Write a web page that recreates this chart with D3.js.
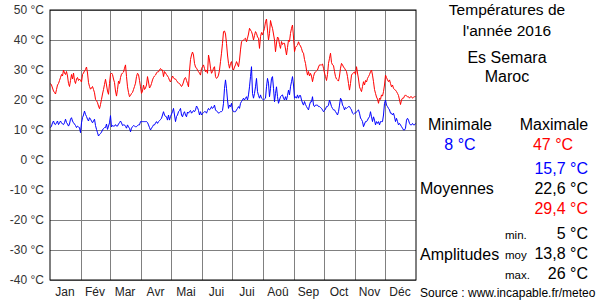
<!DOCTYPE html>
<html>
<head>
<meta charset="utf-8">
<script src="https://cdn.jsdelivr.net/npm/d3@7"></script>
<style>
  body { margin: 0; background: #fff; }
  svg { font-family: "Liberation Sans", Arial, sans-serif; }
  .grid line { stroke: #808080; stroke-width: 1; }
  .grid path { display: none; }
  .ylab text { fill: #333; font-size: 12px; }
  .xlab text { fill: #222; font-size: 12px; }
  .xlab line, .xlab path { display: none; }
  .ylab line, .ylab path { display: none; }
</style>
</head>
<body>
<div id="chart_area"></div>
<script>
// Month names and lengths (2016 is a leap year).
var month_names = ["Jan", "Fév", "Mar", "Avr", "Mai", "Jui", "Jui", "Aoû", "Sep", "Oct", "Nov", "Déc"];
var month_days = [31, 29, 31, 30, 31, 30, 31, 31, 30, 31, 30, 31];
var y_ticks = [50, 40, 30, 20, 10, 0, -10, -20, -30, -40];

// Daily maxima.
var max_temps = [
  25.5, 25, 24, 23, 22.5, 22, 23.5, 25, 25.5, 26.5, 27.5, 28.5, 28, 30, 29, 28.5, 29.5, 28, 25.5, 24.5, 26.5, 28.5, 27, 29, 26.5, 25.5, 27, 27.5, 26.5, 27, 26.5,
  26, 28.5, 29, 29.7, 30.2, 31, 29, 25.8, 24.5, 23.6, 24, 24.5, 23.5, 22.4, 20.2, 19.8, 19.1, 18, 17.1, 18.5, 20.2, 22, 23.5, 25.2, 26.9, 25, 23, 21.9, 25.5,
  28.6, 29, 28.5, 27, 25.8, 23, 21.3, 23.5, 26.3, 25.5, 27.5, 28.6, 29, 29.3, 30.6, 31.7, 27.8, 24.4, 22.5, 21.1, 21.5, 22.2, 22.5, 23.5, 24.5, 25.6, 27.8, 28.9, 28.5, 26.5, 24.4,
  22.2, 23, 25, 23.5, 24, 25, 27.8, 26, 24, 24.5, 25.5, 26.7, 27.5, 28, 28.3, 29, 29.4, 29.4, 30, 30.5, 30, 30, 27.8, 29.5, 29, 28.5, 28, 27.5, 26.5, 26,
  27, 28, 27.5, 27, 27, 26.5, 26, 25.6, 25.5, 25, 24.5, 25, 26, 27.2, 27.5, 26.5, 25.5, 24.4, 29.7, 33.5, 35, 36, 35, 32.2, 31, 30.6, 30, 29.4, 29, 28.3, 30.5,
  31.1, 31.7, 30.5, 29.4, 30, 28.9, 35, 33.3, 30.6, 28.9, 29.5, 30.6, 31.1, 27.8, 27.2, 27.5, 28.3, 30, 32.8, 35.6, 38.9, 42.8, 43, 42, 38.9, 35, 32.2, 30.6, 32.2, 32.8,
  30.6, 30, 31, 31.7, 32.8, 32, 31.1, 33.3, 36.7, 39.4, 39.8, 40, 40.3, 40.6, 39.4, 40.6, 42, 43.9, 43.3, 42.8, 41.7, 40, 41.5, 42.8, 42.2, 41, 40.6, 37.2, 41.1, 42.5, 41.7,
  42.8, 43.9, 46.1, 47, 43.3, 40, 42.2, 46.5, 45, 43.9, 42, 40, 36.1, 39, 41, 40.6, 38.5, 37.2, 39.5, 38.5, 38.9, 38.9, 37, 35, 37.5, 40, 39.5, 42.2, 43.9, 45, 41,
  36.1, 37.5, 38, 38.3, 39.4, 38.5, 38, 37.2, 36, 35.6, 33.5, 32.2, 30, 28.3, 29.5, 28, 28.9, 28, 26.1, 27.8, 29, 29.4, 29.7, 30, 31, 31.7, 31.7, 31.7, 32, 30.6,
  29, 27.8, 26.5, 28.5, 32.2, 33.9, 35.6, 32.5, 31.7, 31.5, 29.5, 27.8, 27, 26.7, 26.3, 28, 30.6, 32.2, 31.7, 31, 30.6, 30, 29.5, 27.8, 25.5, 23.3, 25.5, 28.3, 28.8, 29, 29.4,
  28.5, 31.1, 29, 27, 24.4, 23.5, 22.8, 24.5, 26.1, 25, 26.5, 26, 27.2, 27.8, 28.5, 29.4, 30, 28.3, 26.1, 23.5, 22.2, 21, 20.3, 18.9, 20.6, 20.2, 21.7, 21.3, 22.8, 25,
  28.3, 27.5, 26.7, 26.1, 26.7, 25.5, 24.4, 25, 23.9, 23.5, 23.3, 22.8, 22.2, 21.5, 20, 18.5, 20, 20.6, 20.6, 21.3, 21.7, 21.3, 21.1, 21.1, 20.6, 21.1, 21.1, 20.6, 20.9, 21.1, 21.1
];

// Daily minima.
var min_temps = [
  10.8, 11.3, 12.4, 13, 12, 11.8, 12.4, 13, 11.8, 12.4, 13, 12.4, 12, 11.8, 12.4, 13.6, 12.5, 12, 11.3, 12, 13.6, 14.1, 13, 12.4, 12, 11.5, 10.8, 11.3, 11, 10.8, 9.1,
  12.4, 14.1, 15, 16.3, 15.2, 14.5, 13.6, 13, 14.1, 13.6, 13, 12.4, 13, 13.6, 11.5, 10.2, 9.1, 8, 8.5, 8.8, 9.3, 10, 10.5, 10.8, 10.8, 12, 10.2, 11.3, 12.4,
  14.8, 11, 11.5, 11.3, 11.3, 11.8, 11.3, 11.3, 12, 12.4, 13, 12.4, 11.5, 11.7, 11.7, 11.2, 10.6, 11.7, 11, 10.6, 9.4, 10.6, 11.1, 11.5, 11.3, 11.1, 11.1, 11.5, 11.7, 11.7, 12.8,
  12.8, 12.8, 12.8, 12.8, 12.8, 12.8, 12.5, 11.7, 10.8, 10, 10.6, 11.1, 11.7, 11.7, 12.3, 12.8, 12.2, 12.8, 13.1, 13.5, 13.9, 15, 16.1, 15, 14.5, 14.4, 13.3, 15, 13.3, 14.5,
  15.3, 16.1, 17.2, 15, 12.8, 14.5, 15, 16.1, 16.5, 17.2, 15, 14.4, 15.5, 16.1, 15, 14.4, 16, 15.6, 16.2, 16.5, 15.6, 16, 16.5, 16.1, 16.7, 18, 17.5, 16.5, 15, 16.1, 15,
  15.5, 15.8, 16.1, 16.1, 15.6, 16.5, 17.2, 16.7, 17, 17.8, 17.2, 17.5, 18.3, 16.7, 16.3, 16.1, 15.6, 15.8, 16.1, 16.1, 16.5, 18.9, 23.9, 26.7, 23.9, 20, 17.2, 18.3, 17.8, 18.9,
  16.7, 16.1, 16.1, 16.1, 16.7, 17.2, 17.8, 17.2, 18.9, 19.5, 20, 20.6, 20, 20.6, 21.1, 20, 21.7, 24.4, 27.8, 31.1, 22.2, 20.6, 22.2, 24.4, 27.2, 22.8, 21.5, 20.6, 21.7, 20.6, 20.3,
  20, 20.3, 20.6, 24.4, 27.2, 25.6, 21.1, 23.9, 27.2, 27.8, 23.9, 19.4, 22.2, 24.4, 21.1, 18.9, 20, 21.1, 21.5, 21.7, 20.6, 20, 21.1, 20, 21.5, 23.3, 21.7, 24.4, 26.1, 27.8, 25,
  20.6, 21.1, 20.6, 21.7, 20.6, 21.5, 21.5, 20, 19, 18.3, 19.5, 18.5, 17.8, 17.2, 16.7, 18.3, 19.4, 19.4, 21.1, 18.3, 17.8, 18.3, 18.3, 18.3, 17.8, 17.8, 17.5, 17.2, 16.7, 16.1,
  16.5, 17, 17.8, 17.8, 18.3, 20, 19, 17.8, 17.2, 16.7, 16.7, 16.1, 15.6, 15, 16.1, 18.3, 20.6, 20, 18.3, 17.8, 16.7, 17.5, 17.2, 17.5, 17.8, 17.8, 17.2, 16.7, 15.6, 15.3, 15.6,
  15.6, 16.1, 16.4, 16.7, 15.6, 14, 13.5, 12.8, 11.1, 12, 12.8, 12.8, 13.3, 14, 14.4, 16.1, 14.4, 12.8, 14.4, 13.3, 11.7, 12.8, 12.2, 12.8, 11.7, 12.8, 12.8, 12.8, 15, 18.9,
  20, 18.3, 17.8, 17.2, 16.7, 15.6, 15.6, 15, 15.6, 14.4, 12.8, 13.9, 12.8, 11.7, 12.2, 11.7, 11.1, 10.6, 10, 10, 10.6, 13.3, 13.9, 13.3, 12.2, 11.7, 11.7, 12.2, 11.7, 11.7, 12.2
];

// Summary figures shown on the right.
var title_lines = ["Températures de", "l'année 2016", "Es Semara", "Maroc"];
var extremes = { min: "8 °C", max: "47 °C" };
var means = ["15,7 °C", "22,6 °C", "29,4 °C"];
var amplitudes = ["5 °C", "13,8 °C", "26 °C"];
var amp_names = ["min.", "moy", "max."];

// Frame and plot area.
var frame_width = 600, frame_height = 300;
var margin = {top: 10, left: 50};
var canvas_width = 366, canvas_height = 270;

var frame = d3.select("#chart_area").append("svg")
  .attr("width", frame_width)
  .attr("height", frame_height);

var canvas = frame.append("g")
  .attr("transform", "translate(" + margin.left + "," + margin.top + ")");

var xScale = d3.scaleLinear().domain([0, 366]).range([0, canvas_width]);
var yScale = d3.scaleLinear().domain([-40, 50]).range([canvas_height, 0]);

// month boundaries and centres
var month_starts = [0];
month_days.forEach(function(n, i) { month_starts.push(month_starts[i] + n); });
var month_mids = month_names.map(function(m, i) { return (month_starts[i] + month_starts[i + 1]) / 2 - 1; });

// horizontal grid
canvas.append("g")
  .attr("class", "grid")
  .call(d3.axisLeft(yScale).tickValues(y_ticks).tickSize(-canvas_width).tickFormat(""));

// vertical grid at month starts
canvas.append("g")
  .attr("class", "grid")
  .attr("transform", "translate(0," + canvas_height + ")")
  .call(d3.axisBottom(xScale).tickValues(month_starts.slice(1, 12)).tickSize(-canvas_height).tickFormat(""));

// y labels
canvas.append("g")
  .attr("class", "ylab")
  .call(d3.axisLeft(yScale).tickValues(y_ticks).tickSize(0).tickPadding(6)
    .tickFormat(function(d) { return d + " °C"; }));

// month labels
canvas.append("g")
  .attr("class", "xlab")
  .attr("transform", "translate(0," + canvas_height + ")")
  .call(d3.axisBottom(xScale).tickValues(month_mids).tickSize(0).tickPadding(7)
    .tickFormat(function(d, i) { return month_names[i]; }));

// temperature lines
var line = d3.line()
  .x(function(d, i) { return xScale(i + 0.5); })
  .y(function(d) { return yScale(d); });

canvas.append("path")
  .datum(min_temps)
  .attr("fill", "none")
  .attr("stroke", "#0000ff")
  .attr("stroke-width", 1)
  .attr("d", line);

canvas.append("path")
  .datum(max_temps)
  .attr("fill", "none")
  .attr("stroke", "#ff0000")
  .attr("stroke-width", 1)
  .attr("d", line);

// border
canvas.append("rect")
  .attr("x", 0).attr("y", 0)
  .attr("width", canvas_width).attr("height", canvas_height)
  .attr("fill", "none")
  .attr("stroke", "#000")
  .attr("stroke-width", 1);

// right panel
var panel = frame.append("g");

function addText(x, y, txt, size, color, anchor) {
  return panel.append("text")
    .attr("x", x).attr("y", y)
    .attr("font-size", size)
    .attr("fill", color)
    .attr("text-anchor", anchor)
    .text(txt);
}

var title_y = [15, 36, 63, 82];
title_lines.forEach(function(t, i) {
  addText(507, title_y[i], t, i < 2 ? 15.5 : 16, "#000", "middle");
});

addText(460, 130, "Minimale", 16, "#000", "middle");
addText(554, 130, "Maximale", 16, "#000", "middle");
addText(460, 150, extremes.min, 16, "#0000ff", "middle");
addText(553, 150, extremes.max, 16, "#ff0000", "middle");

var mean_colors = ["#0000ff", "#000", "#ff0000"];
means.forEach(function(t, i) {
  addText(588, 174 + i * 20, t, 16, mean_colors[i], "end");
});
addText(420, 194, "Moyennes", 16, "#000", "start");

amplitudes.forEach(function(t, i) {
  addText(588, 239 + i * 20, t, 16, "#000", "end");
  addText(505, 239 + i * 20, amp_names[i], 11.5, "#000", "start");
});
addText(420, 260, "Amplitudes", 16, "#000", "start");

addText(420, 297, "Source : www.incapable.fr/meteo", 12, "#000", "start");
</script>
</body>
</html>
